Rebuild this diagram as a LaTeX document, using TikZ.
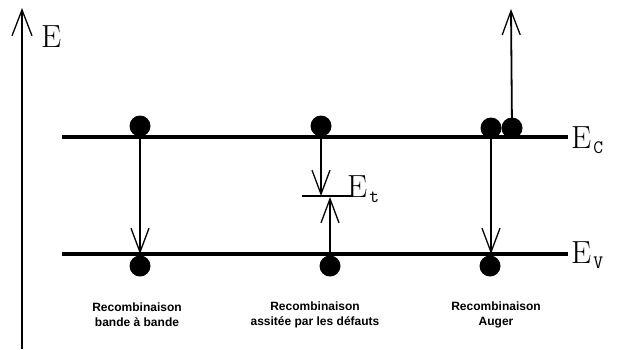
\documentclass[tikz,border=0pt]{standalone}
\usepackage{fontspec}
\newfontfamily\captionfont{Liberation Sans}
\usetikzlibrary{arrows.meta}

\tikzset{
  level/.style={line width=3.2pt},
  electron/.style={circle, fill=black, inner sep=0pt, minimum size=21pt},
  transition/.style={line width=1.8pt, -{Straight Barb[length=24pt, width=18pt, line width=1.3pt]}},
  energy/.style={inner sep=0pt, anchor=base west, font=\fontsize{32}{32}\selectfont},
  caption/.style={align=center, inner sep=0pt, font=\captionfont\bfseries\fontsize{12}{15}\selectfont},
}
\newcommand{\lvlsub}[1]{\kern2pt\raisebox{-5pt}{\ttfamily\fontsize{19}{19}\selectfont #1}}

\begin{document}
\begin{tikzpicture}[x=1pt, y=-1pt]
\useasboundingbox (0,0) rectangle (618,349);

% energy axis
\coordinate (ax0) at (22,349);
\coordinate (ax1) at (22,8);
\draw[line width=1.8pt, -{Straight Barb[length=26pt, width=20pt, line width=1.3pt]}] (ax0) -- (ax1);
\node[energy] (lE) at (41,47) {E};

% conduction and valence band edges
\coordinate (c0) at (62,137);
\coordinate (c1) at (568,137);
\coordinate (v0) at (62,254);
\coordinate (v1) at (568,254);
\draw[level] (c0) -- (c1);
\draw[level] (v0) -- (v1);
\node[energy] (lEc) at (571,148) {E\lvlsub{C}};
\node[energy] (lEv) at (571,263) {E\lvlsub{V}};

% band-to-band recombination
\node[electron] (a1) at (140,126) {};
\node[electron] (a2) at (140,266) {};
\draw[transition] (a1.center) -- (140,254);

% defect-assisted recombination
\node[electron] (b1) at (321,126) {};
\node[electron] (b2) at (330,266) {};
\coordinate (t0) at (302,196);
\coordinate (t1) at (352,196);
\draw[line width=1.8pt] (t0) -- (t1);
\draw[transition] (b1.center) -- (321,196);
\draw[transition] (b2.center) -- (330,197);
\node[energy] (lEt) at (347,197) {E\lvlsub{t}};

% Auger recombination
\node[electron] (c3a) at (491,128) {};
\node[electron] (c3b) at (512,128) {};
\node[electron] (c3c) at (490,266) {};
\coordinate (up) at (511,9);
\draw[transition] (c3b.center) -- (up);
\draw[transition] (c3a.center) -- (491,254);

% captions
\node[caption] (cap1) at (137,315) {Recombinaison\\bande à bande};
\node[caption] (cap2) at (315,315) {Recombinaison\\assitée par les défauts};
\node[caption] (cap3) at (496,315) {Recombinaison\\Auger};
\end{tikzpicture}
\end{document}
